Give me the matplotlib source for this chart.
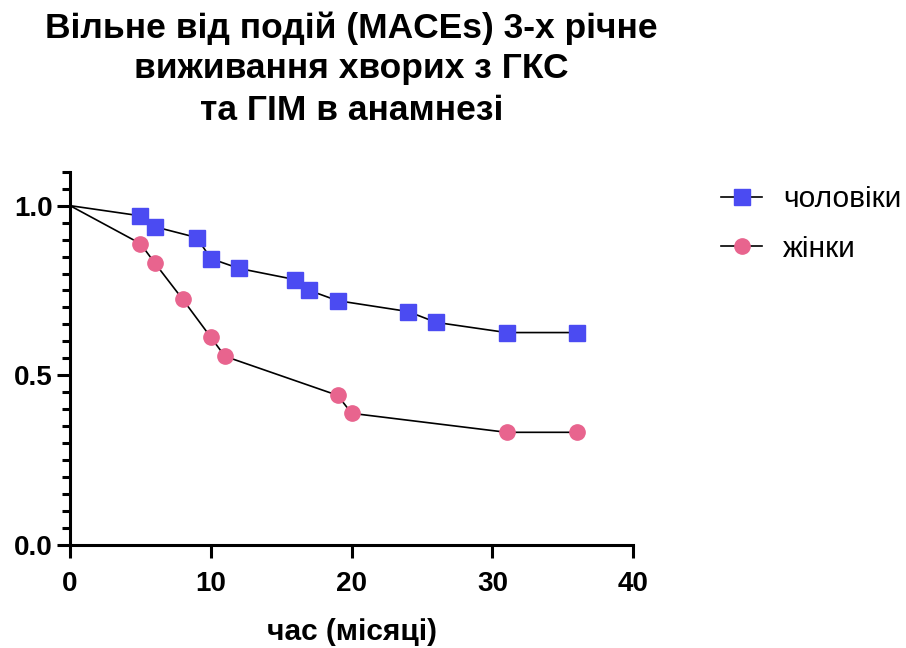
import matplotlib
matplotlib.use('Agg')
import matplotlib.pyplot as plt
from matplotlib.ticker import MultipleLocator

plt.rcParams['font.family'] = ['Liberation Sans', 'DejaVu Sans']

# time in months and survival fractions
men_t = [0, 5, 6, 9, 10, 12, 16, 17, 19, 24, 26, 31, 36]
men_s = [1.0, 0.970, 0.938, 0.906, 0.844, 0.815, 0.782, 0.750, 0.720, 0.688, 0.656, 0.626, 0.626]
women_t = [0, 5, 6, 8, 10, 11, 19, 20, 31, 36]
women_s = [1.0, 0.888, 0.832, 0.724, 0.612, 0.556, 0.441, 0.388, 0.332, 0.332]

labels = ['чоловіки', 'жінки']
title_lines = ['Вільне від подій (MACEs) 3-х річне',
               'виживання хворих з ГКС',
               'та ГІМ в анамнезі']
xlabel = 'час (місяці)'

W, H = 906, 648
fig = plt.figure(figsize=(W / 100, H / 100), dpi=100)
ax = fig.add_axes([0.0773, 0.159, 0.6217, 0.576])

ax.plot(men_t, men_s, color='black', lw=1.2, marker='s', ms=11,
        mfc='#4B4BF2', mec='#4B4BF2', markevery=list(range(1, len(men_t))),
        label=labels[0])
ax.plot(women_t, women_s, color='black', lw=1.2, marker='o', ms=11,
        mfc='#E8648E', mec='#E8648E', markevery=list(range(1, len(women_t))),
        label=labels[1])

ax.set_xlim(0, 40)
ax.set_ylim(0, 1.1)
ax.xaxis.set_major_locator(MultipleLocator(10))
ax.yaxis.set_major_locator(MultipleLocator(0.5))
ax.yaxis.set_minor_locator(MultipleLocator(0.05))
ax.yaxis.set_major_formatter(plt.FormatStrFormatter('%.1f'))

for s in ['top', 'right']:
    ax.spines[s].set_visible(False)
for s in ['left', 'bottom']:
    ax.spines[s].set_linewidth(2.2)

ax.tick_params(axis='both', which='major', length=9.5, width=2.2, labelsize=20)
ax.tick_params(axis='y', which='major', pad=3)
ax.tick_params(axis='x', which='major', pad=9.5)
ax.tick_params(axis='y', which='minor', length=6, width=2.2)
for lab in ax.get_xticklabels() + ax.get_yticklabels():
    lab.set_fontweight('bold')

# x label placed by its baseline
ax.set_xlabel(xlabel, fontsize=21.5, fontweight='bold')
ax.xaxis.label.set_va('baseline')
ax.xaxis.set_label_coords(0.5, (545 - 640) / (0.576 * H))

# title, one text per line, placed by baseline
for line, base in zip(title_lines, [38, 78, 120]):
    fig.text(0.388, 1 - base / H, line, ha='center', va='baseline',
             fontsize=25.5, fontweight='bold')

leg = ax.legend(loc='upper left', bbox_to_anchor=(1.155, 0.964), frameon=False,
                fontsize=21.5, handlelength=1.4, labelspacing=0.72, handletextpad=0.7,
                borderpad=0, borderaxespad=0)

fig.savefig('out.png', dpi=100)
